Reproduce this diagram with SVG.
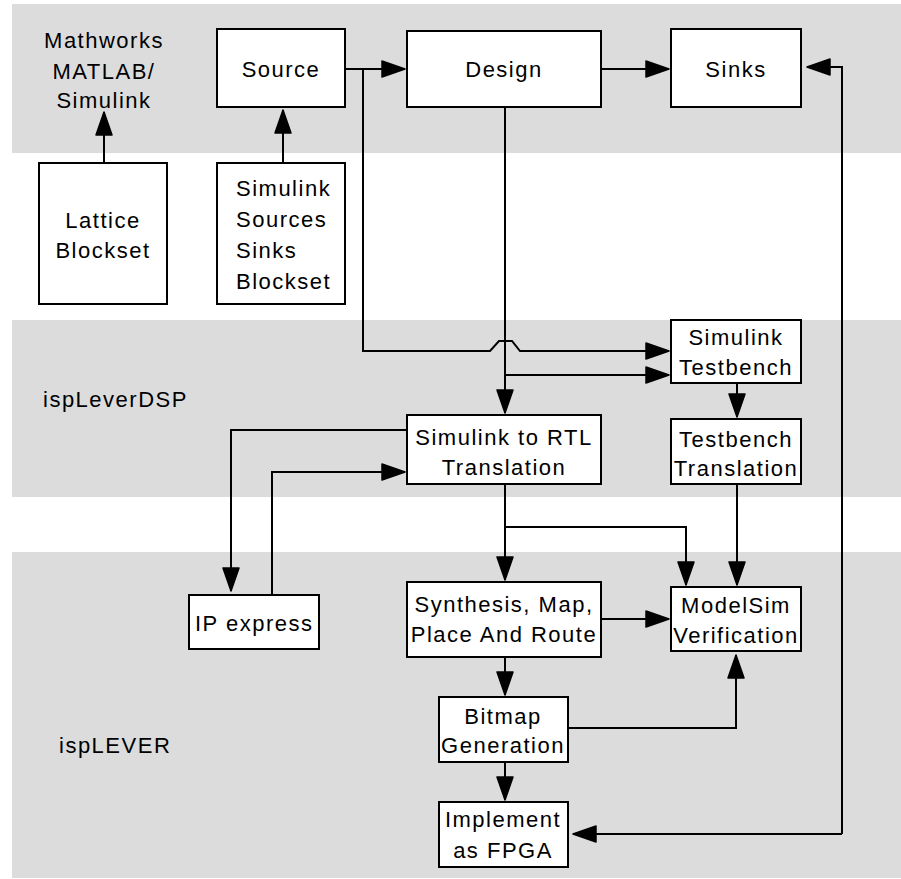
<svg xmlns="http://www.w3.org/2000/svg" width="901" height="879" viewBox="0 0 901 879">
<style>
.band{fill:#dcdcdc}
.box{fill:#fff;stroke:#000;stroke-width:2}
.t{font-family:"Liberation Sans",Arial,sans-serif;font-size:22px;letter-spacing:1.5px;fill:#000}
.c{text-anchor:middle}
.ln{fill:none;stroke:#000;stroke-width:2}
</style>
<defs>
<marker id="ah" markerUnits="userSpaceOnUse" markerWidth="26" markerHeight="20" refX="24" refY="10" orient="auto" viewBox="0 0 26 20">
<path d="M1,2 L24,10 L1,18 z" fill="#000" stroke="#000" stroke-width="1.5" stroke-linejoin="round"/>
</marker>
</defs>
<rect width="901" height="879" fill="#fff"/>
<g id="bands">
<rect class="band" x="12" y="4" width="889" height="149"/>
<rect class="band" x="12" y="320" width="889" height="177"/>
<rect class="band" x="12" y="552" width="889" height="326"/>
</g>
<g id="labels">
<text class="t c" x="104" y="48">Mathworks</text>
<text class="t c" x="104" y="79">MATLAB/</text>
<text class="t c" x="104" y="108">Simulink</text>
<text class="t" x="43" y="407">ispLeverDSP</text>
<text class="t" x="59" y="753">ispLEVER</text>
</g>
<g id="connectors">
<path class="ln" d="M345,69 H405" marker-end="url(#ah)"/>
<path class="ln" d="M601,69 H669" marker-end="url(#ah)"/>
<path class="ln" d="M104,163 V112" marker-end="url(#ah)"/>
<path class="ln" d="M283,163 V110" marker-end="url(#ah)"/>
<path class="ln" d="M363,69 V351 H490 L499,341 H512 L520,351 H669" marker-end="url(#ah)"/>
<path class="ln" d="M505,107 V413" marker-end="url(#ah)"/>
<path class="ln" d="M505,375 H669" marker-end="url(#ah)"/>
<path class="ln" d="M842,834 V67 H807" marker-end="url(#ah)"/>
<path class="ln" d="M842,834 H573" marker-end="url(#ah)"/>
<path class="ln" d="M737,383 V417" marker-end="url(#ah)"/>
<path class="ln" d="M407,430 H231 V591" marker-end="url(#ah)"/>
<path class="ln" d="M272,595 V472 H405" marker-end="url(#ah)"/>
<path class="ln" d="M505,484 V580" marker-end="url(#ah)"/>
<path class="ln" d="M505,527 H686 V585" marker-end="url(#ah)"/>
<path class="ln" d="M737,484 V585" marker-end="url(#ah)"/>
<path class="ln" d="M601,619 H669" marker-end="url(#ah)"/>
<path class="ln" d="M505,657 V695" marker-end="url(#ah)"/>
<path class="ln" d="M568,728 H736 V655" marker-end="url(#ah)"/>
<path class="ln" d="M505,762 V800" marker-end="url(#ah)"/>
</g>
<g id="source"><rect class="box" x="217" y="29" width="128" height="78"/><text class="t c" x="281" y="77">Source</text></g>
<g id="design"><rect class="box" x="407" y="31" width="194" height="76"/><text class="t c" x="504" y="77">Design</text></g>
<g id="sinks"><rect class="box" x="671" y="29" width="130" height="78"/><text class="t c" x="736" y="77">Sinks</text></g>
<g id="lattice"><rect class="box" x="39" y="163" width="128" height="141"/><text class="t c" x="103" y="228">Lattice</text><text class="t c" x="103" y="258">Blockset</text></g>
<g id="simsources"><rect class="box" x="217" y="163" width="128" height="141"/><text class="t" x="236" y="196">Simulink</text><text class="t" x="236" y="227">Sources</text><text class="t" x="236" y="258">Sinks</text><text class="t" x="236" y="289">Blockset</text></g>
<g id="simtestbench"><rect class="box" x="671" y="320" width="130" height="63"/><text class="t c" x="736" y="345">Simulink</text><text class="t c" x="736" y="375">Testbench</text></g>
<g id="tbtranslation"><rect class="box" x="671" y="419" width="130" height="65"/><text class="t c" x="736" y="447">Testbench</text><text class="t c" x="736" y="476">Translation</text></g>
<g id="simrtl"><rect class="box" x="407" y="415" width="194" height="69"/><text class="t c" x="504" y="445">Simulink to RTL</text><text class="t c" x="504" y="475">Translation</text></g>
<g id="ipexpress"><rect class="box" x="189" y="595" width="130" height="54"/><text class="t" x="195" y="631">IP express</text></g>
<g id="synthesis"><rect class="box" x="407" y="582" width="194" height="75"/><text class="t c" x="504" y="612">Synthesis, Map,</text><text class="t c" x="504" y="642">Place And Route</text></g>
<g id="modelsim"><rect class="box" x="671" y="587" width="130" height="64"/><text class="t c" x="736" y="613">ModelSim</text><text class="t c" x="736" y="643">Verification</text></g>
<g id="bitmap"><rect class="box" x="439" y="697" width="129" height="65"/><text class="t c" x="503" y="724">Bitmap</text><text class="t c" x="503" y="753">Generation</text></g>
<g id="implement"><rect class="box" x="439" y="802" width="129" height="65"/><text class="t c" x="503" y="827">Implement</text><text class="t c" x="503" y="858">as FPGA</text></g>
</svg>
